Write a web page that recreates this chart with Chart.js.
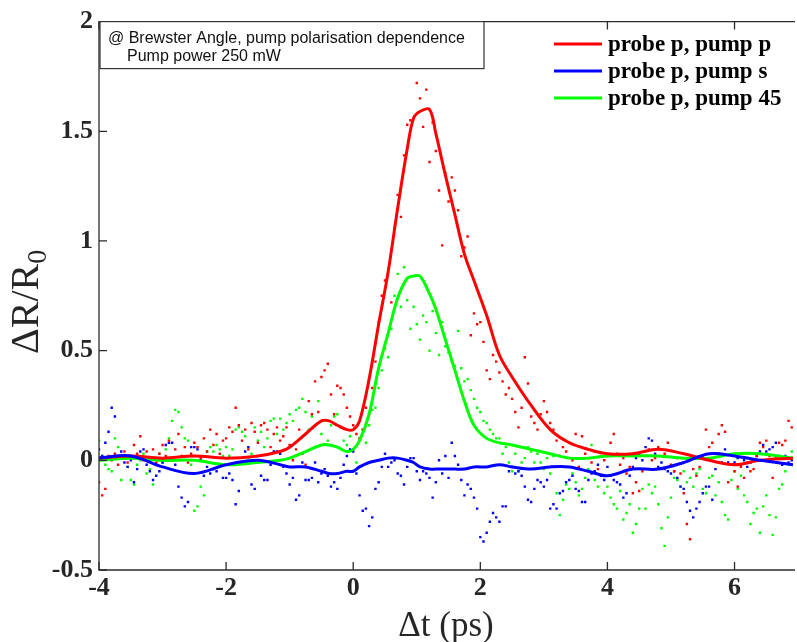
<!DOCTYPE html>
<html>
<head>
<meta charset="utf-8">
<script src="https://cdn.jsdelivr.net/npm/chart.js@4.4.1/dist/chart.umd.min.js"></script>
<style>
  html, body { margin: 0; padding: 0; background: #fff; }
  #wrap { width: 797px; height: 642px; position: relative; }
</style>
</head>
<body>
<div id="wrap"><canvas id="grafico"></canvas></div>
<script>
// raw scans: one point every 0.05 ps from -4 ps, rows of 1 ps
const scanStart = -4;
const scanStep = 0.05;

const rawPP = [
  -0.10,-0.16,-0.13,0.02,0.00,0.03,-0.02,0.01,0.04,-0.01,0.02,0.07,0.03,0.11,0.00,0.04,0.01,0.05,-0.01,0.03,
  0.07,0.02,0.09,0.00,0.05,0.12,0.02,0.06,-0.01,0.03,0.08,0.06,0.01,0.10,0.04,0.14,0.07,0.12,0.03,0.09,
  0.10,0.15,0.13,0.24,0.16,0.09,0.14,0.05,0.17,0.13,0.08,0.16,0.17,0.14,0.06,0.12,0.15,0.09,0.11,0.15,
  0.07,0.00,0.05,0.14,0.03,-0.02,0.27,0.21,0.36,0.22,0.38,0.41,0.44,0.30,0.21,0.34,0.33,0.30,0.24,0.20,
  0.16,0.12,0.10,0.14,0.24,0.21,0.33,0.45,0.63,0.75,0.82,0.87,0.72,1.06,1.21,1.11,1.39,1.53,1.55,1.56,
  1.72,1.65,1.52,1.69,1.36,1.54,1.41,1.23,0.98,1.31,1.18,1.29,1.23,1.14,0.93,0.97,1.02,0.57,0.67,0.62,
  0.63,0.54,0.41,0.37,0.48,0.45,0.40,0.36,0.30,0.33,0.28,0.22,0.15,0.24,0.47,0.35,0.20,0.17,0.14,0.21,
  0.27,0.22,0.17,0.14,0.09,0.02,0.06,0.04,0.08,0.00,0.12,-0.03,0.11,0.03,0.01,-0.01,0.04,-0.04,0.02,0.00,
  0.02,0.08,0.12,0.03,-0.02,0.01,-0.06,-0.03,-0.15,-0.10,-0.14,-0.05,0.02,0.05,0.00,0.01,0.06,-0.04,0.03,0.08,
  -0.02,-0.05,0.01,-0.06,-0.15,-0.29,-0.36,-0.04,-0.07,-0.03,0.02,0.14,0.06,0.08,0.03,0.12,0.16,0.13,-0.10,-0.02,
  -0.05,-0.12,-0.03,-0.08,-0.01,-0.05,-0.04,0.02,0.08,0.06,0.09,0.02,-0.08,0.01,0.08,0.07,0.09,0.18,0.15
];

const rawPS = [
  0.05,0.02,0.08,0.13,0.24,0.20,0.01,0.04,-0.01,-0.03,0.00,-0.10,-0.04,0.04,0.05,-0.02,-0.05,-0.09,-0.07,-0.05,
  -0.01,0.07,0.08,0.08,-0.02,-0.12,-0.17,-0.21,-0.19,0.06,0.06,0.05,0.00,-0.07,-0.03,-0.06,-0.04,-0.05,-0.02,-0.08,
  -0.08,-0.06,-0.09,-0.20,-0.14,-0.01,0.04,0.06,-0.11,-0.13,-0.01,-0.07,-0.09,-0.09,-0.02,0.04,0.04,0.03,-0.03,-0.06,
  -0.11,-0.08,-0.18,-0.16,-0.01,-0.09,-0.09,-0.08,-0.01,-0.10,-0.06,-0.04,-0.07,-0.12,-0.10,-0.13,-0.08,-0.02,0.02,0.05,
  0.04,-0.06,-0.16,-0.23,-0.22,-0.30,-0.26,-0.13,-0.10,-0.03,0.03,-0.03,-0.01,0.00,-0.06,-0.07,-0.11,-0.03,0.01,0.01,
  -0.05,-0.09,-0.05,-0.06,-0.08,-0.17,-0.10,0.00,-0.06,0.02,-0.08,0.08,0.02,-0.02,-0.09,-0.16,-0.11,-0.13,-0.17,-0.22,
  -0.35,-0.37,-0.33,-0.28,-0.24,-0.26,-0.28,-0.21,-0.21,-0.05,-0.03,-0.06,-0.05,-0.07,-0.12,-0.18,-0.19,-0.13,-0.09,-0.10,
  -0.12,-0.09,-0.22,-0.20,-0.22,-0.15,-0.14,-0.10,-0.09,-0.07,-0.13,-0.14,-0.19,-0.19,-0.09,-0.06,-0.05,-0.02,-0.07,-0.09,
  -0.03,-0.07,-0.09,-0.10,-0.11,-0.17,-0.15,-0.07,-0.03,0.01,0.03,0.00,0.06,0.10,0.09,0.03,-0.03,-0.01,-0.04,-0.05,
  -0.06,-0.05,-0.08,-0.12,-0.13,-0.19,-0.23,-0.26,-0.22,-0.19,-0.15,-0.12,-0.12,-0.18,-0.04,0.03,-0.01,0.05,-0.01,-0.02,
  -0.01,0.01,-0.02,0.00,-0.03,-0.01,0.00,0.02,0.04,0.07,0.04,0.05,0.06,0.08,0.02,-0.02,0.02,-0.01,0.00
];

const rawP45 = [
  0.09,0.02,-0.02,-0.04,-0.05,0.10,0.06,-0.09,0.01,-0.03,-0.09,-0.11,-0.02,0.00,0.03,-0.06,-0.04,-0.11,-0.02,0.03,
  -0.01,0.05,0.10,0.18,0.23,0.22,0.15,0.10,0.09,-0.02,-0.23,-0.21,-0.12,-0.16,0.04,0.06,0.04,0.07,0.05,0.02,
  0.06,0.02,0.05,0.14,0.15,0.13,0.11,0.01,0.03,0.15,0.09,0.13,0.06,0.10,0.18,0.19,0.12,0.19,0.14,0.17,
  0.21,0.18,0.23,0.24,0.28,0.22,0.14,0.20,0.16,0.27,0.12,0.18,0.09,0.16,0.20,0.21,0.15,0.09,0.07,0.11,
  0.05,-0.01,0.10,0.14,0.08,0.16,0.23,0.24,0.33,0.41,0.51,0.47,0.60,0.75,0.85,0.70,0.88,0.73,0.60,0.70,
  0.62,0.55,0.66,0.63,0.50,0.68,0.58,0.48,0.63,0.52,0.49,0.45,0.43,0.59,0.42,0.36,0.37,0.32,0.28,0.24,
  0.22,0.18,0.17,0.14,0.12,0.10,0.10,0.03,0.06,-0.01,-0.05,0.03,-0.05,-0.01,0.01,0.06,0.04,-0.01,0.03,-0.01,
  -0.04,0.01,-0.06,0.02,-0.15,-0.25,-0.18,-0.11,-0.13,-0.06,-0.10,-0.16,-0.13,-0.08,-0.04,0.07,-0.09,-0.12,-0.07,-0.15,
  -0.12,-0.17,-0.20,-0.22,-0.14,-0.27,-0.24,-0.20,-0.33,-0.29,-0.22,-0.13,-0.22,-0.11,-0.15,-0.12,-0.20,-0.31,-0.39,-0.26,
  -0.17,-0.08,-0.09,-0.12,-0.05,-0.10,-0.08,-0.12,-0.06,-0.04,-0.13,-0.15,-0.08,-0.07,-0.16,-0.10,-0.19,-0.25,-0.27,-0.09,
  -0.05,-0.13,-0.07,-0.16,-0.19,-0.29,-0.24,-0.22,-0.33,-0.21,-0.16,-0.25,-0.34,-0.26,-0.13,-0.11,-0.05,-0.02,0.04
];

// smoothed traces
const fitDelay = [-4,-3.5,-3,-2.5,-2,-1.5,-1.15,-1,-0.75,-0.5,-0.38,-0.25,-0.1,0,0.1,0.25,0.4,0.55,0.7,0.85,0.95,1.05,1.2,1.3,1.45,1.6,1.75,1.9,2.1,2.3,2.5,2.8,3.1,3.4,3.7,4.0,4.4,4.8,5.2,5.6,6.0,6.4,6.92];
const fitPP  = [0.01,0.02,0.01,0.02,0.01,0.02,0.04,0.06,0.12,0.18,0.18,0.16,0.14,0.14,0.18,0.37,0.62,0.86,1.15,1.42,1.56,1.59,1.60,1.49,1.30,1.12,0.94,0.82,0.66,0.48,0.38,0.25,0.14,0.08,0.05,0.03,0.03,0.05,0.03,0.00,-0.02,0.00,0.01];
const fitPS  = [0.01,0.02,-0.03,-0.06,-0.02,0.00,-0.02,-0.03,-0.03,-0.05,-0.06,-0.06,-0.05,-0.05,-0.03,-0.01,0.00,0.01,0.01,0.00,-0.01,-0.03,-0.04,-0.04,-0.04,-0.04,-0.04,-0.03,-0.03,-0.02,-0.03,-0.04,-0.03,-0.03,-0.05,-0.07,-0.04,-0.04,-0.01,0.03,0.02,0.00,-0.02];
const fitP45 = [0.00,0.01,0.00,0.00,-0.02,-0.01,0.00,0.01,0.04,0.07,0.07,0.06,0.04,0.05,0.09,0.21,0.42,0.58,0.74,0.83,0.84,0.84,0.76,0.69,0.55,0.41,0.27,0.16,0.10,0.08,0.07,0.05,0.03,0.01,0.01,0.02,0.02,0.02,0.01,0.01,0.03,0.03,0.01];

const xTicksStep = 2;
const yTicksStep = 0.5;
const xMin = -4, xMax = 6.92;
const yMin = -0.5, yMax = 2;

const scanDelay = rawPP.map((_, i) => Math.round((scanStart + i * scanStep) * 100) / 100);

function pts(xs, ys) {
    return ys.map((y, i) => ({ x: xs[i], y: y }));
}

const RED = '#ff0000', BLUE = '#0000ff', GREEN = '#00ff00';
const AXIS = '#2b2b2b';

function dots(data, color) {
    return {
        data: pts(scanDelay, data),
        showLine: false,
        pointStyle: 'rect',
        pointRadius: 1.7,
        pointBorderWidth: 0,
        pointBackgroundColor: color,
        order: 5
    };
}

function trace(label, data, color, order) {
    return {
        label: label,
        data: pts(fitDelay, data),
        showLine: true,
        borderColor: color,
        borderWidth: 3,
        pointRadius: 0,
        tension: 0.35,
        order: order
    };
}

// frame with inward ticks, titles, note box and legend
const decor = {
    id: 'decor',
    afterDatasetsDraw(chart) {
        const ctx = chart.ctx;
        const a = chart.chartArea;
        const xs = chart.scales.x, ys = chart.scales.y;
        ctx.save();
        ctx.strokeStyle = AXIS;
        ctx.lineWidth = 1.3;
        ctx.beginPath();
        ctx.moveTo(a.right + 2, a.top); ctx.lineTo(a.left, a.top);
        ctx.lineTo(a.left, a.bottom); ctx.lineTo(a.right + 2, a.bottom);
        ctx.stroke();
        ctx.beginPath();
        xs.ticks.forEach(t => {
            const px = xs.getPixelForValue(t.value);
            ctx.moveTo(px, a.bottom); ctx.lineTo(px, a.bottom - 8);
            ctx.moveTo(px, a.top); ctx.lineTo(px, a.top + 8);
        });
        ys.ticks.forEach(t => {
            const py = ys.getPixelForValue(t.value);
            ctx.moveTo(a.left, py); ctx.lineTo(a.left + 8, py);
        });
        ctx.stroke();

        // axis titles
        ctx.fillStyle = '#262626';
        ctx.font = '35px "Liberation Serif"';
        ctx.textAlign = 'center';
        ctx.textBaseline = 'alphabetic';
        ctx.fillText('\u0394t (ps)', (a.left + a.right) / 2, 636);

        ctx.save();
        ctx.translate(38, (a.top + a.bottom) / 2 + 6);
        ctx.rotate(-Math.PI / 2);
        ctx.font = '40px "Liberation Serif"';
        const main = '\u0394R/R';
        const wMain = ctx.measureText(main).width;
        ctx.font = '28px "Liberation Serif"';
        const wSub = ctx.measureText('0').width;
        const x0 = -(wMain + wSub) / 2;
        ctx.textAlign = 'left';
        ctx.font = '40px "Liberation Serif"';
        ctx.fillText(main, x0, 0);
        ctx.font = '28px "Liberation Serif"';
        ctx.fillText('0', x0 + wMain, 8);
        ctx.restore();

        // note box
        ctx.fillStyle = '#fff';
        ctx.fillRect(a.left + 1, a.top, 384, 47);
        ctx.strokeStyle = '#333';
        ctx.lineWidth = 1.2;
        ctx.strokeRect(a.left + 1, a.top, 384, 47);
        ctx.fillStyle = '#111';
        ctx.font = '16px "Liberation Sans"';
        ctx.textAlign = 'left';
        ctx.fillText('@ Brewster Angle, pump polarisation dependence', a.left + 9, a.top + 21);
        ctx.fillText('Pump power 250 mW', a.left + 28, a.top + 39);

        // legend
        const items = chart.data.datasets.filter(d => d.label);
        ctx.font = 'bold 23px "Liberation Serif"';
        ctx.textBaseline = 'middle';
        items.forEach((d, i) => {
            const y = 44 + i * 27;
            ctx.strokeStyle = d.borderColor;
            ctx.lineWidth = 3;
            ctx.beginPath();
            ctx.moveTo(554, y); ctx.lineTo(602, y);
            ctx.stroke();
            ctx.fillStyle = '#000';
            ctx.fillText(d.label, 608, y + 1);
        });
        ctx.restore();
    }
};

document.addEventListener("DOMContentLoaded", function () {

    const tickFont = { family: '"Liberation Serif"', size: 26, weight: 'bold' };

    new Chart(document.getElementById("grafico"), {
        type: "scatter",
        data: {
            datasets: [
                dots(rawPP, RED),
                dots(rawPS, BLUE),
                dots(rawP45, GREEN),
                trace("probe p, pump p", fitPP, RED, 2),
                trace("probe p, pump s", fitPS, BLUE, 1),
                trace("probe p, pump 45", fitP45, GREEN, 3)
            ]
        },
        options: {
            responsive: true,
            maintainAspectRatio: false,
            animation: false,
            events: [],
            layout: { padding: { top: 15, right: 0, bottom: 0, left: 0 } },
            plugins: {
                legend: { display: false },
                tooltip: { enabled: false }
            },
            scales: {
                x: {
                    type: 'linear',
                    min: xMin,
                    max: xMax,
                    grid: { display: false, drawTicks: false },
                    border: { display: false },
                    ticks: {
                        stepSize: xTicksStep,
                        includeBounds: false,
                        maxRotation: 0,
                        padding: 3,
                        color: '#262626',
                        font: tickFont,
                        callback: v => String(v)
                    },
                    afterFit: s => { s.height = 72; }
                },
                y: {
                    min: yMin,
                    max: yMax,
                    grid: { display: false, drawTicks: false },
                    border: { display: false },
                    ticks: {
                        stepSize: yTicksStep,
                        padding: 6,
                        color: '#262626',
                        font: tickFont,
                        callback: v => String(v)
                    },
                    afterFit: s => { s.width = 99; }
                }
            }
        },
        plugins: [decor]
    });

});
</script>
</body>
</html>
